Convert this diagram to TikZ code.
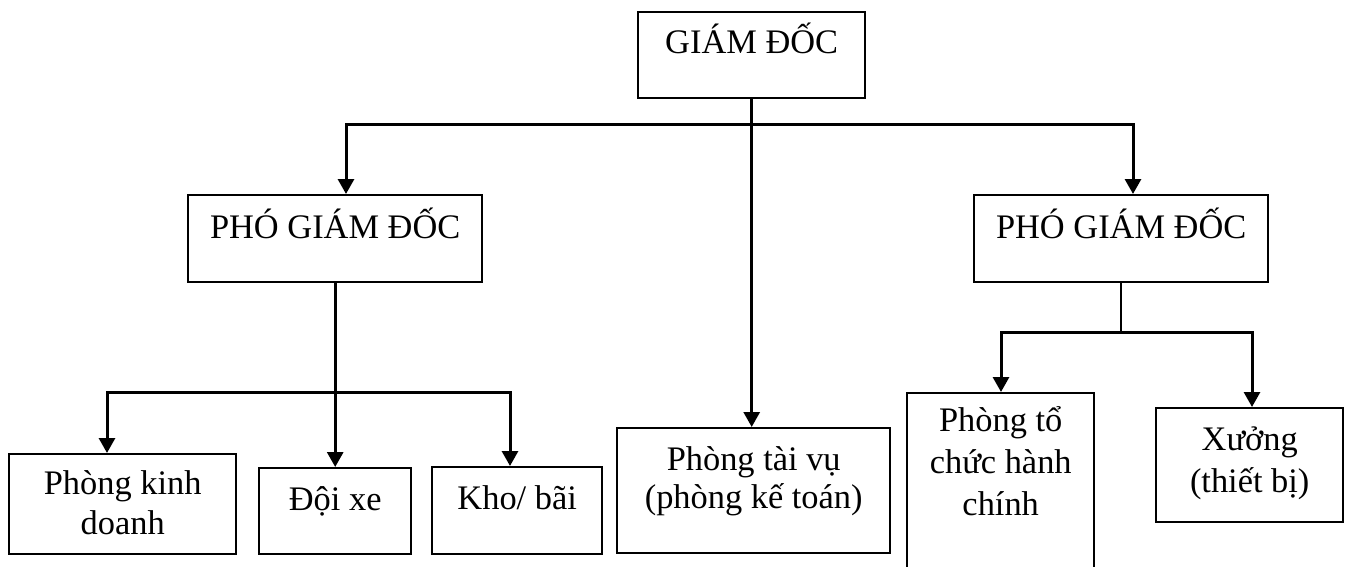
\documentclass[tikz,border=0pt]{standalone}
\usepackage{fontspec}
\setmainfont{Liberation Serif}
\usetikzlibrary{arrows.meta,calc}
\begin{document}
\begin{tikzpicture}[x=1pt,y=-1pt,
  box/.style={draw, line width=2.4pt, inner sep=0pt, anchor=north west},
  txt/.style={anchor=base, align=center, inner sep=0pt, font=\fontsize{34.4}{40}\selectfont},
  conn/.style={line width=3pt},
  thinconn/.style={line width=2.4pt},
  tip/.tip={Triangle[width=16pt,length=15pt]},
  arr/.style={conn, -tip},
  arrboth/.style={conn, tip-tip}]
\useasboundingbox (0,0) rectangle (1346,567);
\clip (0,0) rectangle (1346,567);
% boxes
\node[box, minimum width=227pt, minimum height=86pt]  (gd)  at (637,11)  {};
\node[box, minimum width=294pt, minimum height=87pt]  (pl)  at (187,194) {};
\node[box, minimum width=294pt, minimum height=87pt]  (pr)  at (973,194) {};
\node[box, minimum width=227pt, minimum height=100pt] (pk)  at (8,453)   {};
\node[box, minimum width=152pt, minimum height=86pt]  (dx)  at (258,467) {};
\node[box, minimum width=170pt, minimum height=87pt]  (kho) at (431,466) {};
\node[box, minimum width=273pt, minimum height=125pt] (tv)  at (616,427) {};
\node[box, minimum width=187pt, minimum height=210pt] (ptc) at (906,392) {};
\node[box, minimum width=187pt, minimum height=114pt] (xw)  at (1155,407) {};
% texts (anchor base = baseline of the last line)
\node[txt] (gdt)  at ($(gd.north)+(0,43)$)  {GIÁM ĐỐC};
\node[txt] (plt)  at ($(pl.north)+(0,44)$)  {PHÓ GIÁM ĐỐC};
\node[txt] (prt)  at ($(pr.north)+(0,44)$)  {PHÓ GIÁM ĐỐC};
\node[txt] (pkt)  at ($(pk.north)+(0,81)$)  {Phòng kinh\\doanh};
\node[txt] (dxt)  at ($(dx.north)+(0,43)$)  {Đội xe};
\node[txt] (khot) at ($(kho.north)+(0,43)$) {Kho/ bãi};
\node[txt] (tvt)  at ($(tv.north)+(0,81)$)  {Phòng tài vụ\\[-2pt](phòng kế toán)};
\node[txt] (ptct) at ($(ptc.north)+(0,123)$) {Phòng tổ\\[2pt]chức hành\\[2pt]chính};
\node[txt] (xwt)  at ($(xw.north)+(0,85)$)  {Xưởng\\[2pt](thiết bị)};
% junctions
\coordinate (j1) at (346,125);
\coordinate (j2) at (1133,125);
\coordinate (j3) at (107,392);
\coordinate (j4) at (510,392);
\coordinate (j5) at (1001,332);
\coordinate (j6) at (1252,332);
% connectors
\draw[arr] (gd.south) -- (gd.south |- tv.north);
\draw[arrboth] (j1 |- pl.north) -- (j1) -- (j2) -- (j2 |- pr.north);
\draw[arr] (pl.south) -- (pl.south |- dx.north);
\draw[arrboth] (j3 |- pk.north) -- (j3) -- (j4) -- (j4 |- kho.north);
\draw[thinconn] (pr.south) -- (pr.south |- j5);
\draw[arrboth] (j5 |- ptc.north) -- (j5) -- (j6) -- (j6 |- xw.north);
\end{tikzpicture}
\end{document}
